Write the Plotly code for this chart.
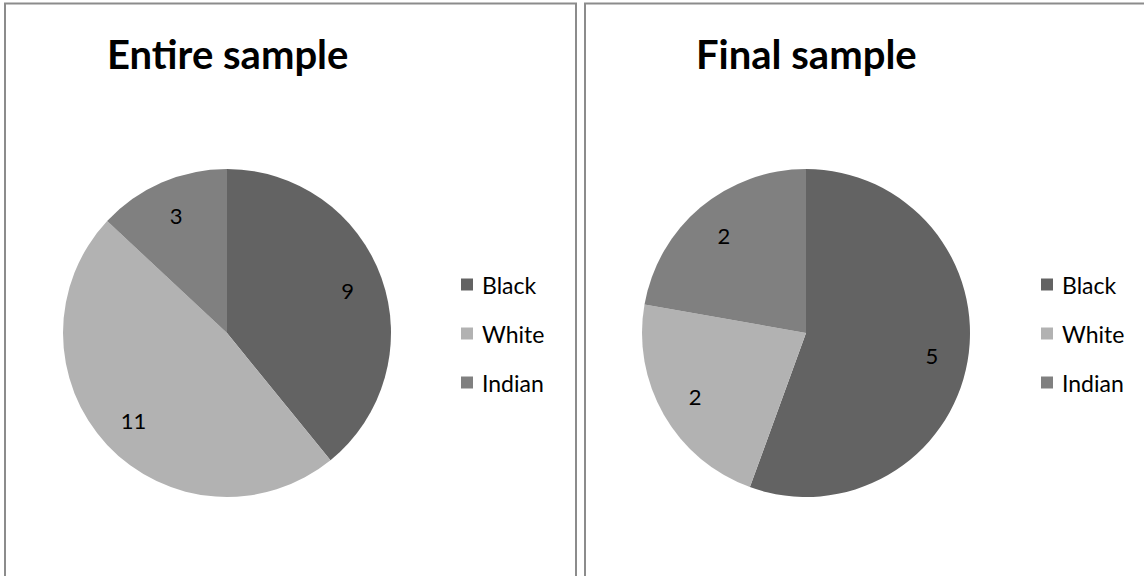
import plotly.graph_objects as go

# Sample composition by group
categories = ["Black", "White", "Indian"]
entire_values = [9, 11, 3]
final_values = [5, 2, 2]
titles = ["Entire sample", "Final sample"]

colors = ["#636363", "#b2b2b2", "#808080"]
W, H = 1144, 576
FONT = "Lato, Carlito, Calibri, sans-serif"


def px(x):
    return x / W


def py(y):
    return 1 - y / H


fig = go.Figure()

panels = [
    # (values, title, pie center x, panel left, panel right, legend x)
    (entire_values, titles[0], 227, 5, 576, 461),
    (final_values, titles[1], 806, 585, 1150, 1041),
]
radius = 164
cy = 333

for values, title, cx, left, right, lx in panels:
    dom = dict(x=[px(cx - radius), px(cx + radius)],
               y=[py(cy + radius), py(cy - radius)])
    # filled slices
    fig.add_trace(go.Pie(
        labels=categories,
        values=values,
        sort=False,
        direction="clockwise",
        rotation=0,
        marker=dict(colors=colors, line=dict(width=0)),
        textinfo="none",
        domain=dom,
        showlegend=False,
        hoverinfo="label+value+percent",
    ))
    # value labels, set in the outer band of each slice
    fig.add_trace(go.Pie(
        labels=categories,
        values=values,
        sort=False,
        direction="clockwise",
        rotation=0,
        hole=0.56,
        marker=dict(colors=["rgba(0,0,0,0)"] * len(values), line=dict(width=0)),
        textinfo="value",
        textposition="inside",
        insidetextorientation="horizontal",
        textfont=dict(family=FONT, size=22, color="#000000"),
        domain=dom,
        showlegend=False,
        hoverinfo="skip",
    ))

    # panel frame
    fig.add_shape(type="rect", xref="paper", yref="paper",
                  x0=px(left), x1=px(right), y0=py(H + 10), y1=py(3.5),
                  line=dict(color="#8c8c8c", width=2), fillcolor="rgba(0,0,0,0)")

    # panel title
    fig.add_annotation(text=f"<b>{title}</b>", xref="paper", yref="paper",
                       x=px(cx), y=py(54), xanchor="center", yanchor="middle",
                       showarrow=False,
                       font=dict(family=FONT, size=40, color="#000000"))

    # legend entries
    for i, (name, col) in enumerate(zip(categories, colors)):
        yc = 284.5 + 49 * i
        fig.add_shape(type="rect", xref="paper", yref="paper",
                      x0=px(lx), x1=px(lx + 12), y0=py(yc + 6), y1=py(yc - 6),
                      line=dict(width=0), fillcolor=col)
        fig.add_annotation(text=name, xref="paper", yref="paper",
                           x=px(lx + 19), y=py(yc), xanchor="left", yanchor="middle",
                           showarrow=False,
                           font=dict(family=FONT, size=23, color="#000000"))

fig.update_layout(
    width=W, height=H,
    margin=dict(l=0, r=0, t=0, b=0),
    paper_bgcolor="#ffffff",
    plot_bgcolor="#ffffff",
    showlegend=False,
)

fig.write_html("out.html")
